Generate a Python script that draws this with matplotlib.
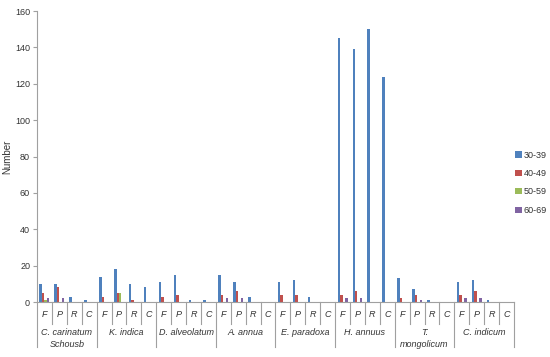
import numpy as np
import matplotlib
matplotlib.use('Agg')
import matplotlib.pyplot as plt
import matplotlib.transforms as mtransforms

plt.rcParams['font.family'] = ['Liberation Sans', 'DejaVu Sans']

# Datos
especies = ['C. carinatum\nSchousb', 'K. indica', 'D. alveolatum', 'A. annua',
            'E. paradoxa', 'H. annuus', 'T.\nmongolicum', 'C. indicum']
organos = ['F', 'P', 'R', 'C']
series = ['30-39', '40-49', '50-59', '60-69']
colores = ['#4F81BD', '#C0504D', '#9BBB59', '#8064A2']

# una fila por especie: F, P, R, C
v30_39 = [[10, 10, 3, 1], [14, 18, 10, 8], [11, 15, 1, 1], [15, 11, 3, 0],
          [11, 12, 3, 0], [145, 139, 150, 124], [13, 7, 1, 0], [11, 12, 1, 0]]
v40_49 = [[5, 8, 0, 0], [3, 5, 1, 0], [3, 4, 0, 0], [4, 6, 0, 0],
          [4, 4, 0, 0], [4, 6, 0, 0], [2, 4, 0, 0], [4, 6, 0, 0]]
v50_59 = [[1, 0, 0, 0], [0, 5, 0, 0], [0, 0, 0, 0], [0, 0, 0, 0],
          [0, 0, 0, 0], [0, 0, 0, 0], [0, 0, 0, 0], [0, 0, 0, 0]]
v60_69 = [[2, 2, 0, 0], [0, 0, 0, 0], [0, 0, 0, 0], [2, 2, 0, 0],
          [0, 0, 0, 0], [2, 2, 0, 0], [0, 1, 0, 0], [2, 2, 0, 0]]

valores = [np.array(v).ravel() for v in (v30_39, v40_49, v50_59, v60_69)]
n_cat = len(especies) * len(organos)
x = np.arange(n_cat)

fig = plt.figure(figsize=(5.5, 3.57), dpi=100)
ax = fig.add_axes([0.0673, 0.154, 0.8672, 0.815])

ancho = 1 / 6
for i, (vals, col, nom) in enumerate(zip(valores, colores, series)):
    ax.bar(x + (i - 1.5) * ancho, vals, width=ancho, color=col, label=nom,
           linewidth=0)

ax.set_xlim(-0.5, n_cat - 0.5)
ax.set_ylim(0, 160)
ax.set_yticks(range(0, 161, 20))
ax.tick_params(axis='y', labelsize=6.5, colors='#A0A0A0', length=3, pad=2,
               labelcolor='#333333')
ax.set_xticks([])

gris = '#A0A0A0'
for s in ['top', 'right']:
    ax.spines[s].set_visible(False)
for s in ['left', 'bottom']:
    ax.spines[s].set_color(gris)
    ax.spines[s].set_linewidth(0.8)

ax.set_ylabel('Number', fontsize=7, color='#333333', labelpad=2)

# Eje x de dos niveles
trans = mtransforms.blended_transform_factory(ax.transData, ax.transAxes)
for k in range(n_cat + 1):
    xb = k - 0.5
    largo = -0.155 if k % 4 == 0 else -0.075
    ax.plot([xb, xb], [0, largo], transform=trans, color=gris, lw=0.8,
            clip_on=False)
for k in range(n_cat):
    ax.text(k, -0.043, organos[k % 4], transform=trans, ha='center',
            va='center', fontsize=6.5, style='italic', color='#333333')
for j, nom in enumerate(especies):
    ax.text(j * 4 + 1.5, -0.088, nom, transform=trans, ha='center', va='top',
            fontsize=6.5, style='italic', color='#333333', linespacing=1.45)

ax.legend(loc='center left', bbox_to_anchor=(1.003, 0.41), frameon=False,
          fontsize=6.5, handlelength=0.7, handleheight=0.7, handletextpad=0.25,
          labelspacing=1.05, borderaxespad=0, borderpad=0,
          labelcolor='#333333')

fig.savefig('out.png', dpi=100)
